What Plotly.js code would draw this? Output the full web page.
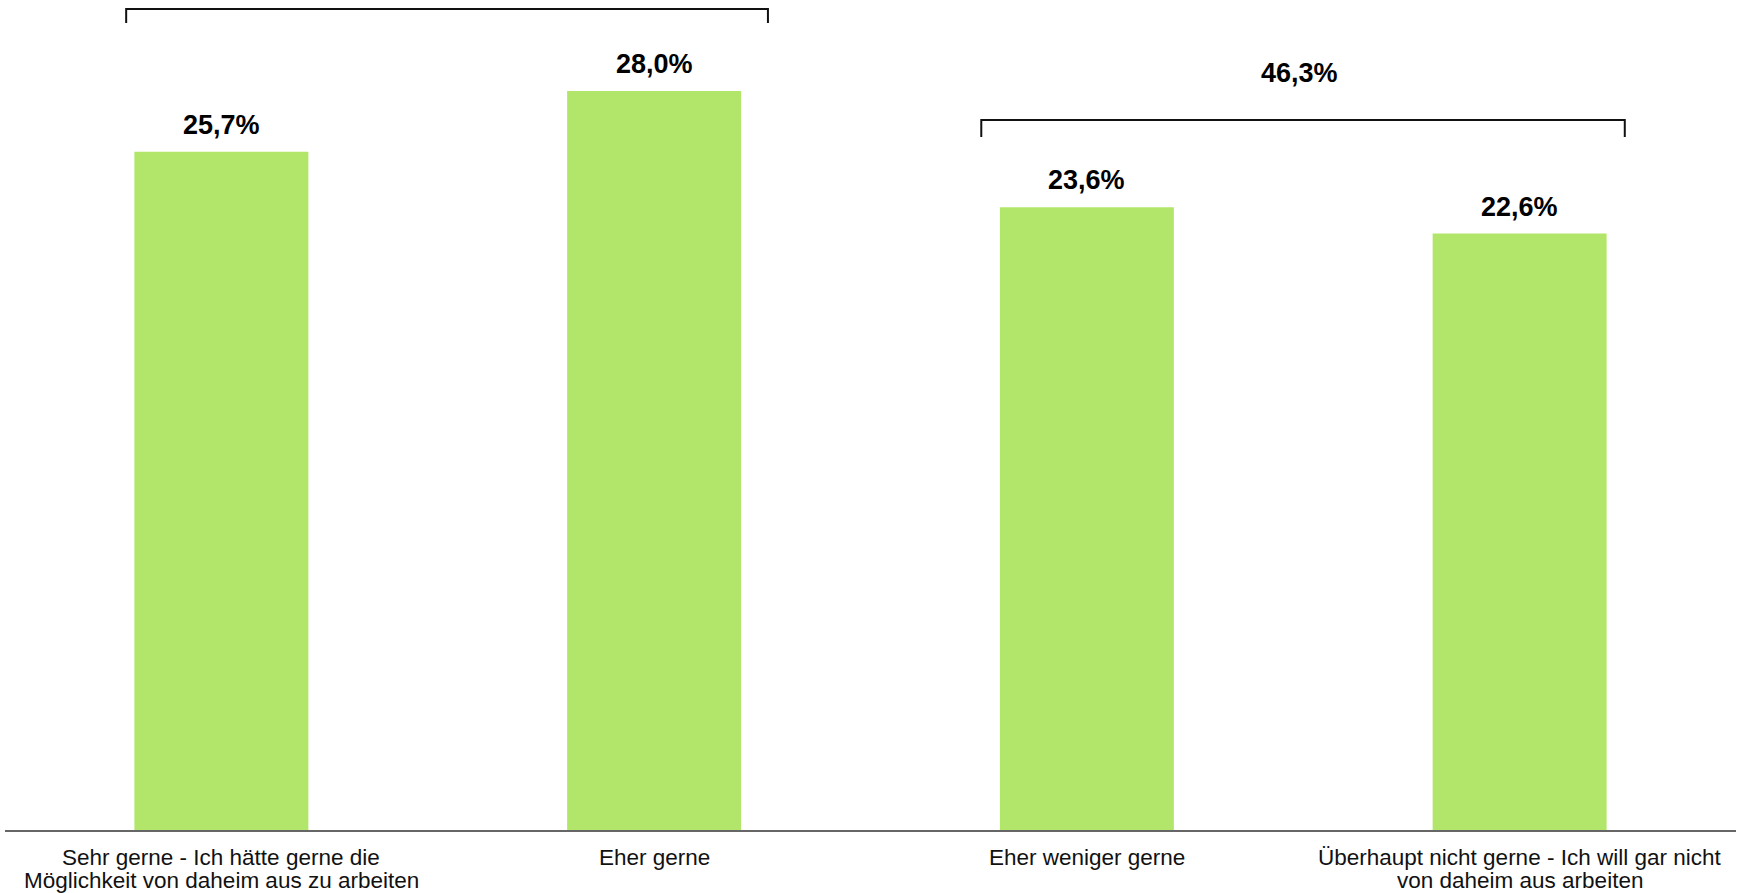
<!DOCTYPE html>
<html>
<head>
<meta charset="utf-8">
<script src="https://cdn.plot.ly/plotly-3.0.1.min.js"></script>
<style>
  html, body { margin: 0; padding: 0; background: #ffffff; }
  #chart { width: 1743px; height: 893px; }
</style>
</head>
<body>
<div id="chart"></div>
<script>
// ---- data ----
const categories = [
  "Sehr gerne - Ich hätte gerne die<br>Möglichkeit von daheim aus zu arbeiten",
  "Eher gerne",
  "Eher weniger gerne",
  "Überhaupt nicht gerne - Ich will gar nicht<br>von daheim aus arbeiten"
];
const values = [25.7, 28.0, 23.6, 22.6];
const valueLabels = ["25,7%", "28,0%", "23,6%", "22,6%"];
// bracket groups: first/last category index, summary label (first group label lies above the picture)
const groupStart = [0, 2];
const groupEnd = [1, 3];
const groupLabels = ["", "46,3%"];

// ---- style ----
const barColor = "rgb(178,230,106)";
const fontFamily = "Arial, 'Liberation Sans', sans-serif";

const trace = {
  type: "bar",
  x: categories,
  y: values,
  marker: { color: barColor },
  hoverinfo: "skip",
  showlegend: false
};

const annotations = values.map((v, i) => ({
  x: i, y: v, xref: "x", yref: "y",
  text: "<b>" + valueLabels[i] + "</b>",
  showarrow: false,
  yanchor: "middle",
  yshift: 27,
  font: { family: fontFamily, size: 27, color: "#000000" }
}));

// category labels under the axis (drawn line by line for tighter spacing)
categories.forEach((c, i) => {
  c.split("<br>").forEach((line, j) => {
    annotations.push({
      x: i, y: 0, xref: "x", yref: "y",
      text: line, showarrow: false,
      yanchor: "middle", yshift: -(27 + j * 23.5),
      font: { family: fontFamily, size: 22.5, color: "#111111" }
    });
  });
});

// bracket geometry: extent beyond the group's outer categories (category units), heights (data units)
const bracketPadLeft = [0.72, 0.744];
const bracketPadRight = [0.263, 0.243];
const bracketY = [31.11, 26.9];
const bracketDrop = [0.53, 0.64];
const shapes = [];
groupStart.forEach((s, g) => {
  const xc = (s + groupEnd[g]) / 2;
  const x0 = s - bracketPadLeft[g] + 0.5, x1 = groupEnd[g] + bracketPadRight[g];
  const yTop = bracketY[g], yBot = bracketY[g] - bracketDrop[g];
  shapes.push({
    type: "path", xref: "x", yref: "y",
    path: `M ${x0},${yBot} L ${x0},${yTop} L ${x1},${yTop} L ${x1},${yBot}`,
    line: { color: "#111111", width: 2 }
  });
  if (groupLabels[g]) {
    annotations.push({
      x: xc, y: yTop, xref: "x", yref: "y",
      text: "<b>" + groupLabels[g] + "</b>",
      showarrow: false, yanchor: "middle", yshift: 47, xshift: -4,
      font: { family: fontFamily, size: 27, color: "#000000" }
    });
  }
});

const layout = {
  width: 1743, height: 893,
  margin: { l: 4.5, r: 6.5, t: 0, b: 63, autoexpand: false },
  paper_bgcolor: "#ffffff", plot_bgcolor: "#ffffff",
  bargap: 0.598,
  xaxis: {
    type: "category",
    showline: true, linecolor: "#666666", linewidth: 2,
    ticks: "", showgrid: false, zeroline: false,
    showticklabels: false,
    automargin: false
  },
  yaxis: {
    range: [0, 31.45], visible: false, showgrid: false, zeroline: false, fixedrange: true
  },
  shapes: shapes,
  annotations: annotations,
  font: { family: fontFamily }
};

Plotly.newPlot("chart", [trace], layout, { displayModeBar: false, staticPlot: true });
</script>
</body>
</html>
